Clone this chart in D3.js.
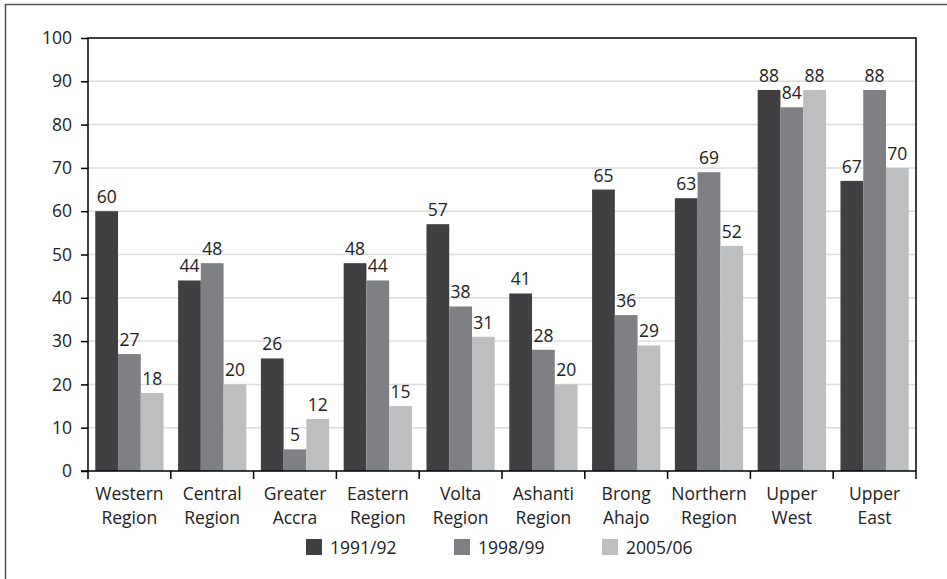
<!DOCTYPE html>
<html>
<head>
<meta charset="utf-8">
<style>
  body { margin: 0; background: #fff; }
  svg { display: block; font-family: "Open Sans", sans-serif; }
  .grid line { stroke: #dcdcdc; stroke-width: 1.5; }
</style>
<script src="https://d3js.org/d3.v7.min.js"></script>
</head>
<body>
<svg width="947" height="579"></svg>
<script>
// data
const regions = [["Western", "Region"], ["Central", "Region"], ["Greater", "Accra"], ["Eastern", "Region"],
  ["Volta", "Region"], ["Ashanti", "Region"], ["Brong", "Ahajo"], ["Northern", "Region"],
  ["Upper", "West"], ["Upper", "East"]];
const seriesNames = ["1991/92", "1998/99", "2005/06"];
const v1991 = [60, 44, 26, 48, 57, 41, 65, 63, 88, 67];
const v1998 = [27, 48, 5, 44, 38, 28, 36, 69, 84, 88];
const v2005 = [18, 20, 12, 15, 31, 20, 29, 52, 88, 70];
const yTicks = [0, 10, 20, 30, 40, 50, 60, 70, 80, 90, 100];
const colors = ["#404042", "#7f8083", "#bdbec0"];

const series = [v1991, v1998, v2005];
const svg = d3.select("svg");
const mLeft = 88, mRight = 916, mTop = 38, mBottom = 471;

// outer frame
svg.append("rect").attr("x", 5.5).attr("y", 4.5).attr("width", 947).attr("height", 600)
  .attr("fill", "none").attr("stroke", "#555").attr("stroke-width", 1.5);

const x = d3.scaleBand().domain(d3.range(regions.length)).range([mLeft, mRight]).paddingInner(0).paddingOuter(0);
const xs = d3.scaleBand().domain(d3.range(series.length)).range([0, x.bandwidth()]).paddingInner(0).paddingOuter(0.32);
const y = d3.scaleLinear().domain([0, 100]).range([mBottom, mTop]);

// grid
svg.append("g").attr("class", "grid")
  .selectAll("line").data(yTicks.filter(t => t > 0 && t < 100)).join("line")
  .attr("x1", mLeft).attr("x2", mRight).attr("y1", d => y(d)).attr("y2", d => y(d));

// bars
series.forEach((vals, si) => {
  svg.append("g").selectAll("rect").data(vals).join("rect")
    .attr("x", (d, i) => x(i) + xs(si))
    .attr("width", xs.bandwidth())
    .attr("y", d => y(d))
    .attr("height", d => y(0) - y(d))
    .attr("fill", colors[si]);
  svg.append("g").selectAll("text").data(vals).join("text")
    .attr("x", (d, i) => x(i) + xs(si) + xs.bandwidth() / 2)
    .attr("y", d => y(d) - 8)
    .attr("text-anchor", "middle")
    .attr("font-size", 17.5).attr("fill", "#222")
    .text(d => d);
});

// plot frame (left, top, right)
svg.append("path")
  .attr("d", `M${mLeft},${mBottom}V${mTop}H${mRight}V${mBottom}`)
  .attr("fill", "none").attr("stroke", "#000").attr("stroke-width", 1.5);

// y axis
const yAxis = svg.append("g").attr("transform", `translate(${mLeft},0)`)
  .call(d3.axisLeft(y).tickValues(yTicks).tickSize(7).tickPadding(9));
yAxis.select(".domain").remove();
yAxis.selectAll("line").attr("stroke", "#000").attr("stroke-width", 1.5);
yAxis.selectAll("text").attr("font-size", 17.5).attr("fill", "#222").attr("font-family", "Open Sans");

// x axis
svg.append("line").attr("x1", mLeft - 7).attr("x2", mRight).attr("y1", mBottom).attr("y2", mBottom)
  .attr("stroke", "#000").attr("stroke-width", 1.5);
svg.append("g").selectAll("line").data(d3.range(regions.length + 1)).join("line")
  .attr("x1", i => mLeft + i * x.step()).attr("x2", i => mLeft + i * x.step())
  .attr("y1", mBottom).attr("y2", mBottom + 8)
  .attr("stroke", "#000").attr("stroke-width", 1.5);
const xl = svg.append("g").selectAll("text").data(regions).join("text")
  .attr("x", (d, i) => x(i) + x.bandwidth() / 2)
  .attr("y", 500)
  .attr("text-anchor", "middle").attr("font-size", 17.5).attr("fill", "#222");
xl.append("tspan").attr("x", (d, i) => x(i) + x.bandwidth() / 2).text(d => d[0]);
xl.append("tspan").attr("x", (d, i) => x(i) + x.bandwidth() / 2).attr("dy", 23.5).text(d => d[1]);

// legend
const lg = svg.append("g").selectAll("g").data(seriesNames).join("g")
  .attr("transform", (d, i) => `translate(${306 + i * 148},539)`);
lg.append("rect").attr("width", 16).attr("height", 16).attr("fill", (d, i) => colors[i]);
lg.append("text").attr("x", 24).attr("y", 15).attr("font-size", 17.5).attr("fill", "#222").text(d => d);
</script>
</body>
</html>
